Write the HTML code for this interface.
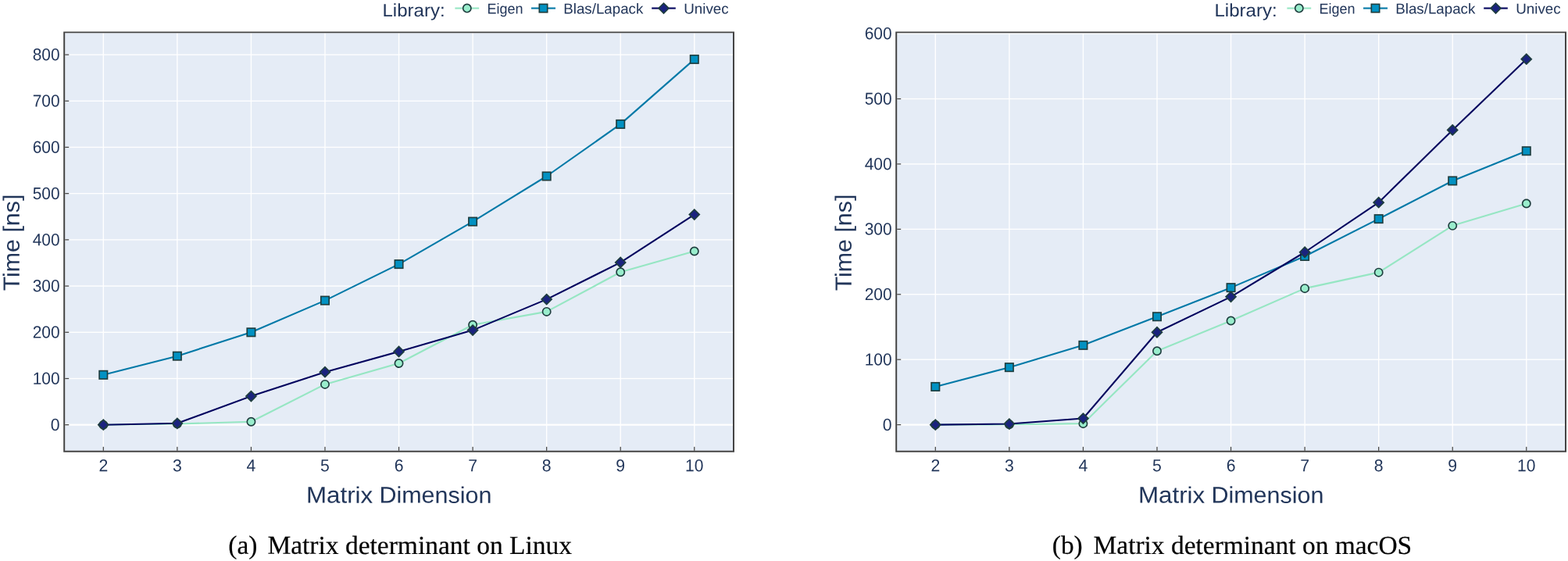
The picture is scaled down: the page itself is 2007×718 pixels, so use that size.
<!DOCTYPE html>
<html lang="en"><head><meta charset="utf-8"><title>Matrix determinant benchmark</title>
<style>html,body{margin:0;padding:0;background:#fff;}body{width:2007px;height:718px;overflow:hidden;}svg{display:block;}text{white-space:pre;}</style>
</head><body>
<svg width="2007" height="718" viewBox="0 0 2007 718" role="img" aria-label="Matrix determinant benchmark on Linux and macOS">
<rect width="2007" height="718" fill="#ffffff"/>
<g transform="translate(0,0)">
<rect x="83.2" y="42.3" width="854.80" height="534.55" fill="#E5ECF6"/>
<rect x="131.62" y="42.3" width="1.35" height="534.55" fill="#fff"/>
<rect x="226.19" y="42.3" width="1.35" height="534.55" fill="#fff"/>
<rect x="320.75" y="42.3" width="1.35" height="534.55" fill="#fff"/>
<rect x="415.31" y="42.3" width="1.35" height="534.55" fill="#fff"/>
<rect x="509.87" y="42.3" width="1.35" height="534.55" fill="#fff"/>
<rect x="604.43" y="42.3" width="1.35" height="534.55" fill="#fff"/>
<rect x="698.99" y="42.3" width="1.35" height="534.55" fill="#fff"/>
<rect x="793.55" y="42.3" width="1.35" height="534.55" fill="#fff"/>
<rect x="888.11" y="42.3" width="1.35" height="534.55" fill="#fff"/>
<rect x="83.2" y="542.62" width="854.80" height="2.15" fill="#fff"/>
<rect x="83.2" y="483.82" width="854.80" height="1.35" fill="#fff"/>
<rect x="83.2" y="424.61" width="854.80" height="1.35" fill="#fff"/>
<rect x="83.2" y="365.40" width="854.80" height="1.35" fill="#fff"/>
<rect x="83.2" y="306.19" width="854.80" height="1.35" fill="#fff"/>
<rect x="83.2" y="246.98" width="854.80" height="1.35" fill="#fff"/>
<rect x="83.2" y="187.77" width="854.80" height="1.35" fill="#fff"/>
<rect x="83.2" y="128.56" width="854.80" height="1.35" fill="#fff"/>
<rect x="83.2" y="69.35" width="854.80" height="1.35" fill="#fff"/>
<path d="M132.30,543.70L226.86,542.50L321.42,539.80L415.98,491.90L510.54,465.00L605.10,415.70L699.66,398.90L794.22,348.30L888.78,321.50" fill="none" stroke="#96e6c3" stroke-width="2.1" stroke-linejoin="round"/>
<circle cx="132.30" cy="543.70" r="5.15" fill="#99edcc" stroke="#1e3d3e" stroke-width="1.65"/>
<circle cx="226.86" cy="542.50" r="5.15" fill="#99edcc" stroke="#1e3d3e" stroke-width="1.65"/>
<circle cx="321.42" cy="539.80" r="5.15" fill="#99edcc" stroke="#1e3d3e" stroke-width="1.65"/>
<circle cx="415.98" cy="491.90" r="5.15" fill="#99edcc" stroke="#1e3d3e" stroke-width="1.65"/>
<circle cx="510.54" cy="465.00" r="5.15" fill="#99edcc" stroke="#1e3d3e" stroke-width="1.65"/>
<circle cx="605.10" cy="415.70" r="5.15" fill="#99edcc" stroke="#1e3d3e" stroke-width="1.65"/>
<circle cx="699.66" cy="398.90" r="5.15" fill="#99edcc" stroke="#1e3d3e" stroke-width="1.65"/>
<circle cx="794.22" cy="348.30" r="5.15" fill="#99edcc" stroke="#1e3d3e" stroke-width="1.65"/>
<circle cx="888.78" cy="321.50" r="5.15" fill="#99edcc" stroke="#1e3d3e" stroke-width="1.65"/>
<path d="M132.30,479.80L226.86,455.70L321.42,425.30L415.98,384.60L510.54,338.10L605.10,283.60L699.66,225.50L794.22,158.90L888.78,75.90" fill="none" stroke="#0279a7" stroke-width="2.1" stroke-linejoin="round"/>
<rect x="127.10" y="474.60" width="10.40" height="10.40" fill="#0291c2" stroke="#1e3d3e" stroke-width="1.65"/>
<rect x="221.66" y="450.50" width="10.40" height="10.40" fill="#0291c2" stroke="#1e3d3e" stroke-width="1.65"/>
<rect x="316.22" y="420.10" width="10.40" height="10.40" fill="#0291c2" stroke="#1e3d3e" stroke-width="1.65"/>
<rect x="410.78" y="379.40" width="10.40" height="10.40" fill="#0291c2" stroke="#1e3d3e" stroke-width="1.65"/>
<rect x="505.34" y="332.90" width="10.40" height="10.40" fill="#0291c2" stroke="#1e3d3e" stroke-width="1.65"/>
<rect x="599.90" y="278.40" width="10.40" height="10.40" fill="#0291c2" stroke="#1e3d3e" stroke-width="1.65"/>
<rect x="694.46" y="220.30" width="10.40" height="10.40" fill="#0291c2" stroke="#1e3d3e" stroke-width="1.65"/>
<rect x="789.02" y="153.70" width="10.40" height="10.40" fill="#0291c2" stroke="#1e3d3e" stroke-width="1.65"/>
<rect x="883.58" y="70.70" width="10.40" height="10.40" fill="#0291c2" stroke="#1e3d3e" stroke-width="1.65"/>
<path d="M132.30,543.70L226.86,541.80L321.42,507.10L415.98,476.20L510.54,450.00L605.10,422.60L699.66,383.10L794.22,335.90L888.78,274.60" fill="none" stroke="#03045e" stroke-width="2.1" stroke-linejoin="round"/>
<path d="M125.80,543.70L132.30,537.20L138.80,543.70L132.30,550.20Z" fill="#1a237e" stroke="#1e3d3e" stroke-width="1.65" stroke-linejoin="miter"/>
<path d="M220.36,541.80L226.86,535.30L233.36,541.80L226.86,548.30Z" fill="#1a237e" stroke="#1e3d3e" stroke-width="1.65" stroke-linejoin="miter"/>
<path d="M314.92,507.10L321.42,500.60L327.92,507.10L321.42,513.60Z" fill="#1a237e" stroke="#1e3d3e" stroke-width="1.65" stroke-linejoin="miter"/>
<path d="M409.48,476.20L415.98,469.70L422.48,476.20L415.98,482.70Z" fill="#1a237e" stroke="#1e3d3e" stroke-width="1.65" stroke-linejoin="miter"/>
<path d="M504.04,450.00L510.54,443.50L517.04,450.00L510.54,456.50Z" fill="#1a237e" stroke="#1e3d3e" stroke-width="1.65" stroke-linejoin="miter"/>
<path d="M598.60,422.60L605.10,416.10L611.60,422.60L605.10,429.10Z" fill="#1a237e" stroke="#1e3d3e" stroke-width="1.65" stroke-linejoin="miter"/>
<path d="M693.16,383.10L699.66,376.60L706.16,383.10L699.66,389.60Z" fill="#1a237e" stroke="#1e3d3e" stroke-width="1.65" stroke-linejoin="miter"/>
<path d="M787.72,335.90L794.22,329.40L800.72,335.90L794.22,342.40Z" fill="#1a237e" stroke="#1e3d3e" stroke-width="1.65" stroke-linejoin="miter"/>
<path d="M882.28,274.60L888.78,268.10L895.28,274.60L888.78,281.10Z" fill="#1a237e" stroke="#1e3d3e" stroke-width="1.65" stroke-linejoin="miter"/>
<path d="M81.20,40.50H940.00V578.70H81.20Z M83.20,42.30V576.85H938.00V42.30Z" fill="#444444" fill-rule="evenodd"/>
<rect x="131.68" y="571.85" width="1.25" height="5.0" fill="#444444"/>
<text x="132.30" y="603.35" font-size="21.9" font-family="Liberation Sans, Arial, sans-serif" fill="#22365a" text-anchor="middle" textLength="11.80" lengthAdjust="spacingAndGlyphs" transform="rotate(0.03 132.30 603)">2</text>
<rect x="226.24" y="571.85" width="1.25" height="5.0" fill="#444444"/>
<text x="226.86" y="603.35" font-size="21.9" font-family="Liberation Sans, Arial, sans-serif" fill="#22365a" text-anchor="middle" textLength="11.80" lengthAdjust="spacingAndGlyphs" transform="rotate(0.03 226.86 603)">3</text>
<rect x="320.80" y="571.85" width="1.25" height="5.0" fill="#444444"/>
<text x="321.42" y="603.35" font-size="21.9" font-family="Liberation Sans, Arial, sans-serif" fill="#22365a" text-anchor="middle" textLength="11.80" lengthAdjust="spacingAndGlyphs" transform="rotate(0.03 321.42 603)">4</text>
<rect x="415.36" y="571.85" width="1.25" height="5.0" fill="#444444"/>
<text x="415.98" y="603.35" font-size="21.9" font-family="Liberation Sans, Arial, sans-serif" fill="#22365a" text-anchor="middle" textLength="11.80" lengthAdjust="spacingAndGlyphs" transform="rotate(0.03 415.98 603)">5</text>
<rect x="509.92" y="571.85" width="1.25" height="5.0" fill="#444444"/>
<text x="510.54" y="603.35" font-size="21.9" font-family="Liberation Sans, Arial, sans-serif" fill="#22365a" text-anchor="middle" textLength="11.80" lengthAdjust="spacingAndGlyphs" transform="rotate(0.03 510.54 603)">6</text>
<rect x="604.48" y="571.85" width="1.25" height="5.0" fill="#444444"/>
<text x="605.10" y="603.35" font-size="21.9" font-family="Liberation Sans, Arial, sans-serif" fill="#22365a" text-anchor="middle" textLength="11.80" lengthAdjust="spacingAndGlyphs" transform="rotate(0.03 605.10 603)">7</text>
<rect x="699.04" y="571.85" width="1.25" height="5.0" fill="#444444"/>
<text x="699.66" y="603.35" font-size="21.9" font-family="Liberation Sans, Arial, sans-serif" fill="#22365a" text-anchor="middle" textLength="11.80" lengthAdjust="spacingAndGlyphs" transform="rotate(0.03 699.66 603)">8</text>
<rect x="793.60" y="571.85" width="1.25" height="5.0" fill="#444444"/>
<text x="794.22" y="603.35" font-size="21.9" font-family="Liberation Sans, Arial, sans-serif" fill="#22365a" text-anchor="middle" textLength="11.80" lengthAdjust="spacingAndGlyphs" transform="rotate(0.03 794.22 603)">9</text>
<rect x="888.15" y="571.85" width="1.25" height="5.0" fill="#444444"/>
<text x="888.78" y="603.35" font-size="21.9" font-family="Liberation Sans, Arial, sans-serif" fill="#22365a" text-anchor="middle" textLength="23.40" lengthAdjust="spacingAndGlyphs" transform="rotate(0.03 888.78 603)">10</text>
<rect x="83.2" y="543.08" width="5.0" height="1.25" fill="#444444"/>
<text x="76.60" y="551.00" font-size="21.8" font-family="Liberation Sans, Arial, sans-serif" fill="#22365a" text-anchor="end" textLength="11.80" lengthAdjust="spacingAndGlyphs" transform="rotate(0.03 76.60 551)">0</text>
<rect x="83.2" y="483.87" width="5.0" height="1.25" fill="#444444"/>
<text x="76.60" y="491.79" font-size="21.8" font-family="Liberation Sans, Arial, sans-serif" fill="#22365a" text-anchor="end" textLength="34.90" lengthAdjust="spacingAndGlyphs" transform="rotate(0.03 76.60 492)">100</text>
<rect x="83.2" y="424.66" width="5.0" height="1.25" fill="#444444"/>
<text x="76.60" y="432.58" font-size="21.8" font-family="Liberation Sans, Arial, sans-serif" fill="#22365a" text-anchor="end" textLength="34.90" lengthAdjust="spacingAndGlyphs" transform="rotate(0.03 76.60 433)">200</text>
<rect x="83.2" y="365.45" width="5.0" height="1.25" fill="#444444"/>
<text x="76.60" y="373.37" font-size="21.8" font-family="Liberation Sans, Arial, sans-serif" fill="#22365a" text-anchor="end" textLength="34.90" lengthAdjust="spacingAndGlyphs" transform="rotate(0.03 76.60 373)">300</text>
<rect x="83.2" y="306.24" width="5.0" height="1.25" fill="#444444"/>
<text x="76.60" y="314.16" font-size="21.8" font-family="Liberation Sans, Arial, sans-serif" fill="#22365a" text-anchor="end" textLength="34.90" lengthAdjust="spacingAndGlyphs" transform="rotate(0.03 76.60 314)">400</text>
<rect x="83.2" y="247.03" width="5.0" height="1.25" fill="#444444"/>
<text x="76.60" y="254.95" font-size="21.8" font-family="Liberation Sans, Arial, sans-serif" fill="#22365a" text-anchor="end" textLength="34.90" lengthAdjust="spacingAndGlyphs" transform="rotate(0.03 76.60 255)">500</text>
<rect x="83.2" y="187.82" width="5.0" height="1.25" fill="#444444"/>
<text x="76.60" y="195.74" font-size="21.8" font-family="Liberation Sans, Arial, sans-serif" fill="#22365a" text-anchor="end" textLength="34.90" lengthAdjust="spacingAndGlyphs" transform="rotate(0.03 76.60 196)">600</text>
<rect x="83.2" y="128.61" width="5.0" height="1.25" fill="#444444"/>
<text x="76.60" y="136.53" font-size="21.8" font-family="Liberation Sans, Arial, sans-serif" fill="#22365a" text-anchor="end" textLength="34.90" lengthAdjust="spacingAndGlyphs" transform="rotate(0.03 76.60 137)">700</text>
<rect x="83.2" y="69.40" width="5.0" height="1.25" fill="#444444"/>
<text x="76.60" y="77.32" font-size="21.8" font-family="Liberation Sans, Arial, sans-serif" fill="#22365a" text-anchor="end" textLength="34.90" lengthAdjust="spacingAndGlyphs" transform="rotate(0.03 76.60 77)">800</text>
<text x="392.00" y="643.60" font-size="29.4" font-family="Liberation Sans, Arial, sans-serif" fill="#22365a" text-anchor="start" textLength="85.20" lengthAdjust="spacingAndGlyphs" transform="rotate(0.03 392.00 644)">Matrix</text>
<text x="485.40" y="643.60" font-size="29.4" font-family="Liberation Sans, Arial, sans-serif" fill="#22365a" text-anchor="start" textLength="144.00" lengthAdjust="spacingAndGlyphs" transform="rotate(0.03 485.40 644)">Dimension</text>
<text x="0.00" y="0.00" font-size="29.4" font-family="Liberation Sans, Arial, sans-serif" fill="#22365a" text-anchor="middle" textLength="123.70" lengthAdjust="spacingAndGlyphs" transform="translate(24.7,310.5) rotate(-89.97)">Time [ns]</text>
<text x="489.45" y="20.90" font-size="23" font-family="Liberation Sans, Arial, sans-serif" fill="#22365a" text-anchor="start" textLength="80.20" lengthAdjust="spacingAndGlyphs" transform="rotate(0.03 489.45 21)">Library:</text>
<line x1="582.4" y1="10.55" x2="613.2" y2="10.55" stroke="#96e6c3" stroke-width="2.1"/>
<circle cx="597.80" cy="10.55" r="5.15" fill="#99edcc" stroke="#1e3d3e" stroke-width="1.65"/>
<text x="623.60" y="17.55" font-size="18.6" font-family="Liberation Sans, Arial, sans-serif" fill="#22365a" text-anchor="start" textLength="46.00" lengthAdjust="spacingAndGlyphs" transform="rotate(0.03 623.60 18)">Eigen</text>
<line x1="680.0" y1="10.55" x2="711.0" y2="10.55" stroke="#0279a7" stroke-width="2.1"/>
<rect x="690.30" y="5.35" width="10.40" height="10.40" fill="#0291c2" stroke="#1e3d3e" stroke-width="1.65"/>
<text x="721.30" y="17.55" font-size="18.6" font-family="Liberation Sans, Arial, sans-serif" fill="#22365a" text-anchor="start" textLength="102.00" lengthAdjust="spacingAndGlyphs" transform="rotate(0.03 721.30 18)">Blas/Lapack</text>
<line x1="834.2" y1="10.55" x2="864.8" y2="10.55" stroke="#03045e" stroke-width="2.1"/>
<path d="M843.00,10.55L849.50,4.05L856.00,10.55L849.50,17.05Z" fill="#1a237e" stroke="#1e3d3e" stroke-width="1.65" stroke-linejoin="miter"/>
<text x="875.25" y="17.55" font-size="18.6" font-family="Liberation Sans, Arial, sans-serif" fill="#22365a" text-anchor="start" textLength="57.40" lengthAdjust="spacingAndGlyphs" transform="rotate(0.03 875.25 18)">Univec</text>
<text x="292.30" y="708.85" font-size="33.4" font-family="Liberation Serif, Times New Roman, serif" stroke="#000" stroke-width="0.2" fill="#000" text-anchor="start" transform="rotate(0.03 292.30 709)">(a)</text>
<text x="342.45" y="708.85" font-size="33.4" font-family="Liberation Serif, Times New Roman, serif" stroke="#000" stroke-width="0.2" fill="#000" text-anchor="start" textLength="389.60" lengthAdjust="spacingAndGlyphs" transform="rotate(0.03 342.45 709)">Matrix determinant on Linux</text>
</g>
<g transform="translate(1065,0)">
<rect x="83.2" y="42.3" width="854.80" height="534.55" fill="#E5ECF6"/>
<rect x="131.62" y="42.3" width="1.35" height="534.55" fill="#fff"/>
<rect x="226.19" y="42.3" width="1.35" height="534.55" fill="#fff"/>
<rect x="320.75" y="42.3" width="1.35" height="534.55" fill="#fff"/>
<rect x="415.31" y="42.3" width="1.35" height="534.55" fill="#fff"/>
<rect x="509.87" y="42.3" width="1.35" height="534.55" fill="#fff"/>
<rect x="604.43" y="42.3" width="1.35" height="534.55" fill="#fff"/>
<rect x="698.99" y="42.3" width="1.35" height="534.55" fill="#fff"/>
<rect x="793.55" y="42.3" width="1.35" height="534.55" fill="#fff"/>
<rect x="888.11" y="42.3" width="1.35" height="534.55" fill="#fff"/>
<rect x="83.2" y="542.52" width="854.80" height="2.15" fill="#fff"/>
<rect x="83.2" y="459.50" width="854.80" height="1.35" fill="#fff"/>
<rect x="83.2" y="376.08" width="854.80" height="1.35" fill="#fff"/>
<rect x="83.2" y="292.67" width="854.80" height="1.35" fill="#fff"/>
<rect x="83.2" y="209.25" width="854.80" height="1.35" fill="#fff"/>
<rect x="83.2" y="125.83" width="854.80" height="1.35" fill="#fff"/>
<rect x="83.2" y="42.40" width="854.80" height="1.35" fill="#fff"/>
<path d="M132.30,543.65L226.86,543.25L321.42,542.15L415.98,449.25L510.54,410.45L605.10,369.15L699.66,348.65L794.22,288.85L888.78,260.55" fill="none" stroke="#96e6c3" stroke-width="2.1" stroke-linejoin="round"/>
<circle cx="132.30" cy="543.65" r="5.15" fill="#99edcc" stroke="#1e3d3e" stroke-width="1.65"/>
<circle cx="226.86" cy="543.25" r="5.15" fill="#99edcc" stroke="#1e3d3e" stroke-width="1.65"/>
<circle cx="321.42" cy="542.15" r="5.15" fill="#99edcc" stroke="#1e3d3e" stroke-width="1.65"/>
<circle cx="415.98" cy="449.25" r="5.15" fill="#99edcc" stroke="#1e3d3e" stroke-width="1.65"/>
<circle cx="510.54" cy="410.45" r="5.15" fill="#99edcc" stroke="#1e3d3e" stroke-width="1.65"/>
<circle cx="605.10" cy="369.15" r="5.15" fill="#99edcc" stroke="#1e3d3e" stroke-width="1.65"/>
<circle cx="699.66" cy="348.65" r="5.15" fill="#99edcc" stroke="#1e3d3e" stroke-width="1.65"/>
<circle cx="794.22" cy="288.85" r="5.15" fill="#99edcc" stroke="#1e3d3e" stroke-width="1.65"/>
<circle cx="888.78" cy="260.55" r="5.15" fill="#99edcc" stroke="#1e3d3e" stroke-width="1.65"/>
<path d="M132.30,494.95L226.86,470.15L321.42,441.85L415.98,405.25L510.54,368.15L605.10,327.95L699.66,280.15L794.22,231.45L888.78,193.25" fill="none" stroke="#0279a7" stroke-width="2.1" stroke-linejoin="round"/>
<rect x="127.10" y="489.75" width="10.40" height="10.40" fill="#0291c2" stroke="#1e3d3e" stroke-width="1.65"/>
<rect x="221.66" y="464.95" width="10.40" height="10.40" fill="#0291c2" stroke="#1e3d3e" stroke-width="1.65"/>
<rect x="316.22" y="436.65" width="10.40" height="10.40" fill="#0291c2" stroke="#1e3d3e" stroke-width="1.65"/>
<rect x="410.78" y="400.05" width="10.40" height="10.40" fill="#0291c2" stroke="#1e3d3e" stroke-width="1.65"/>
<rect x="505.34" y="362.95" width="10.40" height="10.40" fill="#0291c2" stroke="#1e3d3e" stroke-width="1.65"/>
<rect x="599.90" y="322.75" width="10.40" height="10.40" fill="#0291c2" stroke="#1e3d3e" stroke-width="1.65"/>
<rect x="694.46" y="274.95" width="10.40" height="10.40" fill="#0291c2" stroke="#1e3d3e" stroke-width="1.65"/>
<rect x="789.02" y="226.25" width="10.40" height="10.40" fill="#0291c2" stroke="#1e3d3e" stroke-width="1.65"/>
<rect x="883.58" y="188.05" width="10.40" height="10.40" fill="#0291c2" stroke="#1e3d3e" stroke-width="1.65"/>
<path d="M132.30,543.65L226.86,542.55L321.42,535.55L415.98,425.25L510.54,379.85L605.10,322.75L699.66,259.15L794.22,166.45L888.78,75.65" fill="none" stroke="#03045e" stroke-width="2.1" stroke-linejoin="round"/>
<path d="M125.80,543.65L132.30,537.15L138.80,543.65L132.30,550.15Z" fill="#1a237e" stroke="#1e3d3e" stroke-width="1.65" stroke-linejoin="miter"/>
<path d="M220.36,542.55L226.86,536.05L233.36,542.55L226.86,549.05Z" fill="#1a237e" stroke="#1e3d3e" stroke-width="1.65" stroke-linejoin="miter"/>
<path d="M314.92,535.55L321.42,529.05L327.92,535.55L321.42,542.05Z" fill="#1a237e" stroke="#1e3d3e" stroke-width="1.65" stroke-linejoin="miter"/>
<path d="M409.48,425.25L415.98,418.75L422.48,425.25L415.98,431.75Z" fill="#1a237e" stroke="#1e3d3e" stroke-width="1.65" stroke-linejoin="miter"/>
<path d="M504.04,379.85L510.54,373.35L517.04,379.85L510.54,386.35Z" fill="#1a237e" stroke="#1e3d3e" stroke-width="1.65" stroke-linejoin="miter"/>
<path d="M598.60,322.75L605.10,316.25L611.60,322.75L605.10,329.25Z" fill="#1a237e" stroke="#1e3d3e" stroke-width="1.65" stroke-linejoin="miter"/>
<path d="M693.16,259.15L699.66,252.65L706.16,259.15L699.66,265.65Z" fill="#1a237e" stroke="#1e3d3e" stroke-width="1.65" stroke-linejoin="miter"/>
<path d="M787.72,166.45L794.22,159.95L800.72,166.45L794.22,172.95Z" fill="#1a237e" stroke="#1e3d3e" stroke-width="1.65" stroke-linejoin="miter"/>
<path d="M882.28,75.65L888.78,69.15L895.28,75.65L888.78,82.15Z" fill="#1a237e" stroke="#1e3d3e" stroke-width="1.65" stroke-linejoin="miter"/>
<path d="M81.20,40.50H940.00V578.70H81.20Z M83.20,42.30V576.85H938.00V42.30Z" fill="#444444" fill-rule="evenodd"/>
<rect x="131.68" y="571.85" width="1.25" height="5.0" fill="#444444"/>
<text x="132.30" y="603.35" font-size="21.9" font-family="Liberation Sans, Arial, sans-serif" fill="#22365a" text-anchor="middle" textLength="11.80" lengthAdjust="spacingAndGlyphs" transform="rotate(0.03 132.30 603)">2</text>
<rect x="226.24" y="571.85" width="1.25" height="5.0" fill="#444444"/>
<text x="226.86" y="603.35" font-size="21.9" font-family="Liberation Sans, Arial, sans-serif" fill="#22365a" text-anchor="middle" textLength="11.80" lengthAdjust="spacingAndGlyphs" transform="rotate(0.03 226.86 603)">3</text>
<rect x="320.80" y="571.85" width="1.25" height="5.0" fill="#444444"/>
<text x="321.42" y="603.35" font-size="21.9" font-family="Liberation Sans, Arial, sans-serif" fill="#22365a" text-anchor="middle" textLength="11.80" lengthAdjust="spacingAndGlyphs" transform="rotate(0.03 321.42 603)">4</text>
<rect x="415.36" y="571.85" width="1.25" height="5.0" fill="#444444"/>
<text x="415.98" y="603.35" font-size="21.9" font-family="Liberation Sans, Arial, sans-serif" fill="#22365a" text-anchor="middle" textLength="11.80" lengthAdjust="spacingAndGlyphs" transform="rotate(0.03 415.98 603)">5</text>
<rect x="509.92" y="571.85" width="1.25" height="5.0" fill="#444444"/>
<text x="510.54" y="603.35" font-size="21.9" font-family="Liberation Sans, Arial, sans-serif" fill="#22365a" text-anchor="middle" textLength="11.80" lengthAdjust="spacingAndGlyphs" transform="rotate(0.03 510.54 603)">6</text>
<rect x="604.48" y="571.85" width="1.25" height="5.0" fill="#444444"/>
<text x="605.10" y="603.35" font-size="21.9" font-family="Liberation Sans, Arial, sans-serif" fill="#22365a" text-anchor="middle" textLength="11.80" lengthAdjust="spacingAndGlyphs" transform="rotate(0.03 605.10 603)">7</text>
<rect x="699.04" y="571.85" width="1.25" height="5.0" fill="#444444"/>
<text x="699.66" y="603.35" font-size="21.9" font-family="Liberation Sans, Arial, sans-serif" fill="#22365a" text-anchor="middle" textLength="11.80" lengthAdjust="spacingAndGlyphs" transform="rotate(0.03 699.66 603)">8</text>
<rect x="793.60" y="571.85" width="1.25" height="5.0" fill="#444444"/>
<text x="794.22" y="603.35" font-size="21.9" font-family="Liberation Sans, Arial, sans-serif" fill="#22365a" text-anchor="middle" textLength="11.80" lengthAdjust="spacingAndGlyphs" transform="rotate(0.03 794.22 603)">9</text>
<rect x="888.15" y="571.85" width="1.25" height="5.0" fill="#444444"/>
<text x="888.78" y="603.35" font-size="21.9" font-family="Liberation Sans, Arial, sans-serif" fill="#22365a" text-anchor="middle" textLength="23.40" lengthAdjust="spacingAndGlyphs" transform="rotate(0.03 888.78 603)">10</text>
<rect x="83.2" y="542.98" width="5.0" height="1.25" fill="#444444"/>
<text x="76.60" y="550.90" font-size="21.8" font-family="Liberation Sans, Arial, sans-serif" fill="#22365a" text-anchor="end" textLength="11.80" lengthAdjust="spacingAndGlyphs" transform="rotate(0.03 76.60 551)">0</text>
<rect x="83.2" y="459.56" width="5.0" height="1.25" fill="#444444"/>
<text x="76.60" y="467.48" font-size="21.8" font-family="Liberation Sans, Arial, sans-serif" fill="#22365a" text-anchor="end" textLength="34.90" lengthAdjust="spacingAndGlyphs" transform="rotate(0.03 76.60 467)">100</text>
<rect x="83.2" y="376.13" width="5.0" height="1.25" fill="#444444"/>
<text x="76.60" y="384.06" font-size="21.8" font-family="Liberation Sans, Arial, sans-serif" fill="#22365a" text-anchor="end" textLength="34.90" lengthAdjust="spacingAndGlyphs" transform="rotate(0.03 76.60 384)">200</text>
<rect x="83.2" y="292.72" width="5.0" height="1.25" fill="#444444"/>
<text x="76.60" y="300.64" font-size="21.8" font-family="Liberation Sans, Arial, sans-serif" fill="#22365a" text-anchor="end" textLength="34.90" lengthAdjust="spacingAndGlyphs" transform="rotate(0.03 76.60 301)">300</text>
<rect x="83.2" y="209.30" width="5.0" height="1.25" fill="#444444"/>
<text x="76.60" y="217.22" font-size="21.8" font-family="Liberation Sans, Arial, sans-serif" fill="#22365a" text-anchor="end" textLength="34.90" lengthAdjust="spacingAndGlyphs" transform="rotate(0.03 76.60 217)">400</text>
<rect x="83.2" y="125.88" width="5.0" height="1.25" fill="#444444"/>
<text x="76.60" y="133.80" font-size="21.8" font-family="Liberation Sans, Arial, sans-serif" fill="#22365a" text-anchor="end" textLength="34.90" lengthAdjust="spacingAndGlyphs" transform="rotate(0.03 76.60 134)">500</text>
<text x="76.60" y="50.38" font-size="21.8" font-family="Liberation Sans, Arial, sans-serif" fill="#22365a" text-anchor="end" textLength="34.90" lengthAdjust="spacingAndGlyphs" transform="rotate(0.03 76.60 50)">600</text>
<text x="392.00" y="643.60" font-size="29.4" font-family="Liberation Sans, Arial, sans-serif" fill="#22365a" text-anchor="start" textLength="85.20" lengthAdjust="spacingAndGlyphs" transform="rotate(0.03 392.00 644)">Matrix</text>
<text x="485.40" y="643.60" font-size="29.4" font-family="Liberation Sans, Arial, sans-serif" fill="#22365a" text-anchor="start" textLength="144.00" lengthAdjust="spacingAndGlyphs" transform="rotate(0.03 485.40 644)">Dimension</text>
<text x="0.00" y="0.00" font-size="29.4" font-family="Liberation Sans, Arial, sans-serif" fill="#22365a" text-anchor="middle" textLength="123.70" lengthAdjust="spacingAndGlyphs" transform="translate(24.7,310.5) rotate(-89.97)">Time [ns]</text>
<text x="489.45" y="20.90" font-size="23" font-family="Liberation Sans, Arial, sans-serif" fill="#22365a" text-anchor="start" textLength="80.20" lengthAdjust="spacingAndGlyphs" transform="rotate(0.03 489.45 21)">Library:</text>
<line x1="582.4" y1="10.55" x2="613.2" y2="10.55" stroke="#96e6c3" stroke-width="2.1"/>
<circle cx="597.80" cy="10.55" r="5.15" fill="#99edcc" stroke="#1e3d3e" stroke-width="1.65"/>
<text x="623.60" y="17.55" font-size="18.6" font-family="Liberation Sans, Arial, sans-serif" fill="#22365a" text-anchor="start" textLength="46.00" lengthAdjust="spacingAndGlyphs" transform="rotate(0.03 623.60 18)">Eigen</text>
<line x1="680.0" y1="10.55" x2="711.0" y2="10.55" stroke="#0279a7" stroke-width="2.1"/>
<rect x="690.30" y="5.35" width="10.40" height="10.40" fill="#0291c2" stroke="#1e3d3e" stroke-width="1.65"/>
<text x="721.30" y="17.55" font-size="18.6" font-family="Liberation Sans, Arial, sans-serif" fill="#22365a" text-anchor="start" textLength="102.00" lengthAdjust="spacingAndGlyphs" transform="rotate(0.03 721.30 18)">Blas/Lapack</text>
<line x1="834.2" y1="10.55" x2="864.8" y2="10.55" stroke="#03045e" stroke-width="2.1"/>
<path d="M843.00,10.55L849.50,4.05L856.00,10.55L849.50,17.05Z" fill="#1a237e" stroke="#1e3d3e" stroke-width="1.65" stroke-linejoin="miter"/>
<text x="875.25" y="17.55" font-size="18.6" font-family="Liberation Sans, Arial, sans-serif" fill="#22365a" text-anchor="start" textLength="57.40" lengthAdjust="spacingAndGlyphs" transform="rotate(0.03 875.25 18)">Univec</text>
<text x="281.80" y="708.85" font-size="33.4" font-family="Liberation Serif, Times New Roman, serif" stroke="#000" stroke-width="0.2" fill="#000" text-anchor="start" transform="rotate(0.03 281.80 709)">(b)</text>
<text x="334.60" y="708.85" font-size="33.4" font-family="Liberation Serif, Times New Roman, serif" stroke="#000" stroke-width="0.2" fill="#000" text-anchor="start" textLength="407.60" lengthAdjust="spacingAndGlyphs" transform="rotate(0.03 334.60 709)">Matrix determinant on macOS</text>
</g>
</svg>
</body></html>
